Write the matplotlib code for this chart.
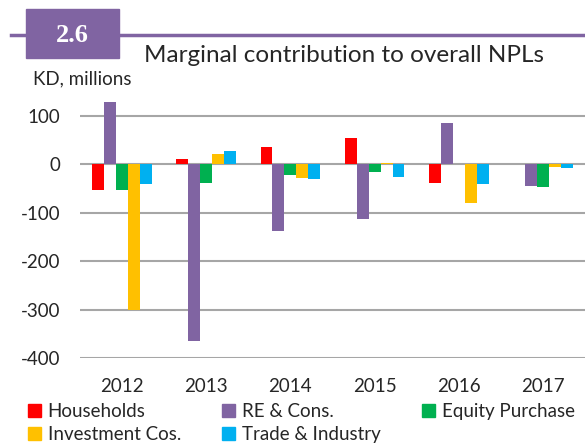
import matplotlib
matplotlib.use("Agg")
import matplotlib.pyplot as plt
from matplotlib.patches import Rectangle, Patch
from matplotlib.lines import Line2D
import numpy as np

years = ["2012", "2013", "2014", "2015", "2016", "2017"]
households = [-54, 10, 35, 53, -40, 0]
re_cons = [128, -365, -137, -113, 84, -46]
equity_purchase = [-53, -40, -23, -17, 1, -48]
investment_cos = [-300, 21, -28, 2, -81, -7]
trade_industry = [-42, 27, -30, -27, -42, -9]

series = [
    ("Households", households, "#FF0000"),
    ("RE & Cons.", re_cons, "#8064A2"),
    ("Equity Purchase", equity_purchase, "#00B050"),
    ("Investment Cos.", investment_cos, "#FFC000"),
    ("Trade & Industry", trade_industry, "#00B0F0"),
]

PURPLE = "#8064A2"
TXT = "#262626"
plt.rcParams["font.family"] = ["Lato", "DejaVu Sans"]

fig = plt.figure(figsize=(5.85, 4.45), dpi=100)
ax = fig.add_axes([80 / 585, 0.1948, 1 - 80 / 585, 0.6002])

x = np.arange(len(years))
w = 0.142
for i, (name, vals, col) in enumerate(series):
    ax.bar(x + (i - 2) * w, vals, w, color=col, label=name, zorder=3)

ax.set_xlim(-0.5, len(years) - 0.5)
ax.set_ylim(-400, 150)
ax.set_yticks([100, 0, -100, -200, -300, -400])
ax.set_yticklabels(["100", "0", "-100", "-200", "-300", "-400"])
ax.set_xticks(x)
ax.set_xticklabels(years)
ax.tick_params(length=0, labelsize=13.5, colors=TXT)
ax.tick_params(axis="y", pad=14)
ax.tick_params(axis="x", pad=14)
ax.grid(axis="y", color="#A6A6A6", linewidth=1.5, zorder=0)
for s in ax.spines.values():
    s.set_visible(False)

# header band
fig.add_artist(Line2D([11 / 585, 1.0], [1 - 34.5 / 445] * 2,
                      transform=fig.transFigure, color=PURPLE, linewidth=2.5))
fig.add_artist(Rectangle((26 / 585, 1 - 57.7 / 445), 93 / 585, 48.7 / 445,
                         transform=fig.transFigure, color=PURPLE, zorder=5))
fig.text(72 / 585, 1 - 35.5 / 445, "2.6", color="white", fontsize=19,
         fontweight="bold", family=["Liberation Serif", "DejaVu Serif"],
         ha="center", va="center", zorder=6)
fig.text(144 / 585, 1 - 55 / 445, "Marginal contribution to overall NPLs",
         fontsize=17.5, color=TXT, ha="left", va="center")
fig.text(33 / 585, 1 - 79 / 445, "KD, millions", fontsize=13.5,
         color=TXT, ha="left", va="center")

# legend in row-major order
h = {name: Patch(color=col) for name, _, col in series}
order = ["Households", "Investment Cos.", "RE & Cons.", "Trade & Industry",
         "Equity Purchase"]
fig.legend([h[n] for n in order], order, ncol=3, frameon=False,
           loc="upper left", bbox_to_anchor=(28 / 585, 1 - 403 / 445),
           fontsize=13.5, handlelength=0.7, handleheight=0.7,
           handletextpad=0.35, columnspacing=2.2, labelspacing=0.3,
           borderpad=0, borderaxespad=0, labelcolor=TXT)

fig.savefig("out.png", dpi=100)
